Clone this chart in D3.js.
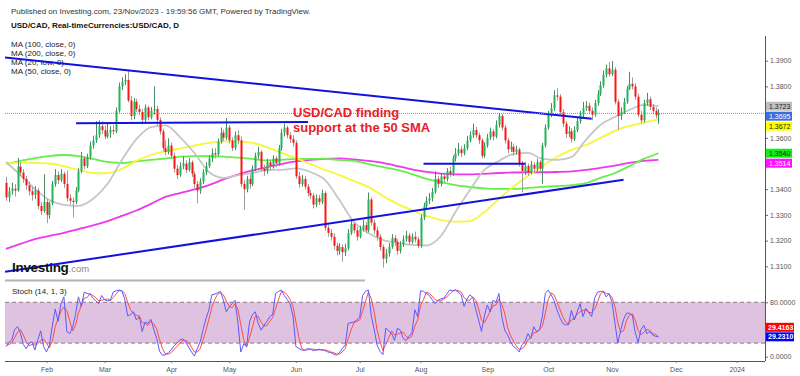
<!DOCTYPE html>
<html><head><meta charset="utf-8">
<script src="https://cdn.jsdelivr.net/npm/d3@7"></script>
<style>
body{margin:0;background:#fff}
svg{display:block}
text{font-family:Arial,"Liberation Sans",sans-serif}
</style>
</head><body>
<svg id="c" width="800" height="376"></svg>
<script>
// ---------- DATA ----------
const firstOpen = 1.3425;
const closes = [1.3368,1.3392,1.3402,1.3395,1.3488,1.3465,1.3440,1.3415,1.3392,1.3378,
1.3395,1.3335,1.3315,1.3350,1.3300,1.3345,1.3420,1.3455,1.3435,1.3460,
1.3420,1.3365,1.3355,1.3350,1.3395,1.3470,1.3520,1.3490,1.3525,1.3570,
1.3590,1.3610,1.3645,1.3630,1.3605,1.3620,1.3630,1.3625,1.3705,1.3800,
1.3818,1.3825,1.3745,1.3685,1.3740,1.3712,1.3700,1.3670,1.3718,1.3680,
1.3705,1.3712,1.3670,1.3625,1.3560,1.3545,1.3570,1.3530,1.3480,1.3455,
1.3490,1.3500,1.3475,1.3505,1.3460,1.3420,1.3395,1.3430,1.3465,1.3490,
1.3520,1.3540,1.3535,1.3585,1.3620,1.3600,1.3640,1.3590,1.3560,1.3610,
1.3590,1.3420,1.3400,1.3440,1.3420,1.3480,1.3530,1.3545,1.3480,1.3470,
1.3505,1.3490,1.3520,1.3500,1.3560,1.3620,1.3640,1.3610,1.3595,1.3580,
1.3450,1.3420,1.3440,1.3410,1.3385,1.3375,1.3340,1.3365,1.3350,1.3385,
1.3250,1.3230,1.3215,1.3180,1.3160,1.3175,1.3155,1.3170,1.3230,1.3265,
1.3240,1.3215,1.3245,1.3260,1.3240,1.3360,1.3270,1.3240,1.3215,1.3175,
1.3130,1.3150,1.3175,1.3210,1.3195,1.3160,1.3185,1.3205,1.3220,1.3195,
1.3215,1.3205,1.3180,1.3290,1.3335,1.3355,1.3365,1.3390,1.3440,1.3420,
1.3450,1.3440,1.3470,1.3460,1.3520,1.3540,1.3555,1.3540,1.3560,1.3590,
1.3610,1.3630,1.3610,1.3590,1.3530,1.3570,1.3600,1.3625,1.3605,1.3650,
1.3685,1.3640,1.3590,1.3555,1.3565,1.3545,1.3555,1.3500,1.3470,1.3490,
1.3465,1.3495,1.3480,1.3505,1.3480,1.3570,1.3640,1.3690,1.3715,1.3765,
1.3760,1.3700,1.3655,1.3615,1.3625,1.3595,1.3630,1.3665,1.3690,1.3715,
1.3725,1.3705,1.3690,1.3735,1.3770,1.3805,1.3845,1.3870,1.3848,1.3865,
1.3740,1.3685,1.3702,1.3740,1.3790,1.3810,1.3800,1.3760,1.3690,1.3668,
1.3735,1.3750,1.3720,1.3705,1.3688,1.3695];
const highs = [1.3448,1.3408,1.3425,1.3420,1.3522,1.3505,1.3478,1.3452,1.3430,1.3410,
1.3412,1.3405,1.3350,1.3458,1.3362,1.3352,1.3432,1.3478,1.3470,1.3478,
1.3468,1.3472,1.3380,1.3368,1.3408,1.3482,1.3545,1.3528,1.3538,1.3585,
1.3608,1.3665,1.3668,1.3665,1.3648,1.3660,1.3645,1.3650,1.3718,1.3815,
1.3835,1.3848,1.3864,1.3762,1.3755,1.3752,1.3728,1.3712,1.3730,1.3725,
1.3720,1.3800,1.3725,1.3680,1.3635,1.3590,1.3598,1.3582,1.3542,1.3495,
1.3505,1.3528,1.3512,1.3522,1.3512,1.3470,1.3432,1.3442,1.3478,1.3505,
1.3532,1.3558,1.3560,1.3598,1.3640,1.3632,1.3677,1.3650,1.3602,1.3625,
1.3628,1.3605,1.3435,1.3452,1.3458,1.3492,1.3542,1.3565,1.3552,1.3495,
1.3518,1.3515,1.3532,1.3530,1.3572,1.3635,1.3655,1.3648,1.3622,1.3610,
1.3590,1.3468,1.3455,1.3452,1.3420,1.3398,1.3385,1.3380,1.3378,1.3398,
1.3392,1.3262,1.3245,1.3228,1.3192,1.3190,1.3185,1.3188,1.3245,1.3278,
1.3272,1.3252,1.3258,1.3280,1.3272,1.3387,1.3368,1.3282,1.3252,1.3225,
1.3185,1.3168,1.3190,1.3225,1.3222,1.3205,1.3198,1.3220,1.3238,1.3230,
1.3228,1.3235,1.3215,1.3302,1.3348,1.3372,1.3385,1.3405,1.3470,1.3452,
1.3462,1.3465,1.3482,1.3488,1.3532,1.3560,1.3580,1.3568,1.3575,1.3608,
1.3625,1.3655,1.3642,1.3620,1.3598,1.3582,1.3615,1.3640,1.3635,1.3668,
1.3697,1.3692,1.3650,1.3600,1.3585,1.3578,1.3570,1.3562,1.3510,1.3505,
1.3500,1.3510,1.3505,1.3518,1.3512,1.3580,1.3652,1.3705,1.3735,1.3785,
1.3793,1.3770,1.3712,1.3665,1.3645,1.3638,1.3645,1.3680,1.3705,1.3740,
1.3742,1.3738,1.3718,1.3748,1.3785,1.3820,1.3862,1.3885,1.3895,1.3899,
1.3875,1.3750,1.3718,1.3755,1.3802,1.3857,1.3835,1.3812,1.3772,1.3705,
1.3748,1.3775,1.3760,1.3732,1.3718,1.3712];
const lows = [1.3355,1.3350,1.3378,1.3372,1.3390,1.3450,1.3425,1.3398,1.3375,1.3355,
1.3362,1.3322,1.3300,1.3308,1.3268,1.3285,1.3338,1.3410,1.3420,1.3428,
1.3405,1.3352,1.3340,1.3290,1.3342,1.3388,1.3462,1.3478,1.3482,1.3515,
1.3558,1.3580,1.3600,1.3615,1.3595,1.3598,1.3600,1.3612,1.3618,1.3698,
1.3785,1.3805,1.3738,1.3668,1.3672,1.3700,1.3688,1.3652,1.3660,1.3668,
1.3672,1.3690,1.3648,1.3612,1.3548,1.3532,1.3535,1.3518,1.3465,1.3440,
1.3448,1.3478,1.3462,1.3468,1.3448,1.3405,1.3345,1.3382,1.3420,1.3455,
1.3482,1.3505,1.3520,1.3528,1.3578,1.3588,1.3592,1.3578,1.3548,1.3552,
1.3575,1.3408,1.3320,1.3388,1.3402,1.3412,1.3470,1.3518,1.3468,1.3452,
1.3460,1.3472,1.3480,1.3485,1.3492,1.3550,1.3605,1.3598,1.3580,1.3565,
1.3440,1.3405,1.3410,1.3398,1.3372,1.3362,1.3325,1.3330,1.3338,1.3342,
1.3238,1.3215,1.3200,1.3165,1.3142,1.3145,1.3118,1.3140,1.3162,1.3222,
1.3228,1.3200,1.3208,1.3235,1.3228,1.3232,1.3258,1.3225,1.3200,1.3160,
1.3095,1.3112,1.3138,1.3168,1.3180,1.3145,1.3150,1.3175,1.3195,1.3182,
1.3188,1.3192,1.3170,1.3172,1.3280,1.3322,1.3342,1.3352,1.3382,1.3405,
1.3410,1.3428,1.3430,1.3448,1.3452,1.3508,1.3530,1.3525,1.3532,1.3552,
1.3582,1.3600,1.3598,1.3575,1.3520,1.3522,1.3562,1.3592,1.3590,1.3598,
1.3640,1.3628,1.3578,1.3540,1.3545,1.3530,1.3535,1.3488,1.3388,1.3455,
1.3452,1.3458,1.3465,1.3470,1.3468,1.3420,1.3562,1.3632,1.3680,1.3705,
1.3745,1.3690,1.3642,1.3600,1.3602,1.3582,1.3588,1.3622,1.3655,1.3680,
1.3705,1.3692,1.3668,1.3682,1.3725,1.3762,1.3795,1.3835,1.3838,1.3840,
1.3730,1.3630,1.3670,1.3692,1.3732,1.3785,1.3788,1.3748,1.3680,1.3655,
1.3660,1.3725,1.3708,1.3692,1.3675,1.3655];

// moving averages sampled every 5 trading days
const maIdx = [0,5,10,15,20,25,30,35,40,45,50,55,60,65,70,75,80,85,90,95,100,105,110,115,120,125,130,135,140,145,150,155,160,165,170,175,180,185,190,195,200,205,210,215,220,225];
const ma100 = [1.3498,1.3510,1.3521,1.3529,1.3533,1.3529,1.3518,1.3506,1.3502,1.3508,1.3514,1.3519,1.3527,1.3529,1.3529,1.3527,1.3523,1.3518,1.3512,1.3514,1.3518,1.3518,1.3518,1.3514,1.3510,1.3498,1.3486,1.3475,1.3459,1.3440,1.3428,1.3416,1.3409,1.3403,1.3401,1.3401,1.3405,1.3409,1.3412,1.3416,1.3424,1.3444,1.3463,1.3490,1.3518,1.3540];
const ma200 = [1.3168,1.3187,1.3206,1.3218,1.3230,1.3245,1.3259,1.3276,1.3296,1.3317,1.3343,1.3370,1.3385,1.3399,1.3416,1.3438,1.3457,1.3473,1.3485,1.3498,1.3508,1.3514,1.3518,1.3520,1.3516,1.3510,1.3502,1.3490,1.3477,1.3467,1.3461,1.3458,1.3458,1.3460,1.3463,1.3465,1.3466,1.3466,1.3467,1.3469,1.3475,1.3483,1.3492,1.3502,1.3510,1.3514];
const ma20Low = [1.3506,1.3455,1.3401,1.3358,1.3339,1.3335,1.3362,1.3420,1.3514,1.3595,1.3642,1.3648,1.3603,1.3541,1.3467,1.3444,1.3455,1.3463,1.3475,1.3475,1.3481,1.3467,1.3436,1.3358,1.3273,1.3230,1.3203,1.3191,1.3183,1.3181,1.3218,1.3311,1.3397,1.3475,1.3510,1.3537,1.3541,1.3518,1.3514,1.3525,1.3592,1.3650,1.3681,1.3708,1.3728,1.3723];
const ma50 = [1.3498,1.3504,1.3502,1.3500,1.3490,1.3475,1.3463,1.3462,1.3479,1.3510,1.3533,1.3547,1.3558,1.3570,1.3580,1.3586,1.3586,1.3580,1.3564,1.3541,1.3521,1.3498,1.3475,1.3455,1.3432,1.3409,1.3374,1.3343,1.3319,1.3296,1.3280,1.3274,1.3276,1.3311,1.3362,1.3409,1.3451,1.3490,1.3525,1.3553,1.3572,1.3599,1.3627,1.3646,1.3660,1.3672];

// Stochastic (14, 1, 3)
const stochK = [15,21,24,40,44,35,18,12,19,22,10,25,38,15,7,17,45,70,52,78,
88,37,34,43,62,88,74,95,93,92,86,82,78,90,84,82,83,95,97,98,
97,84,60,62,66,54,59,37,51,49,55,40,27,8,2,3,6,10,16,20,
25,26,22,14,7,1,12,22,40,56,69,91,92,94,96,83,66,73,78,83,
50,7,19,15,51,62,66,49,39,46,52,59,62,93,96,98,90,84,78,60,
15,12,10,9,12,11,9,10,11,10,9,7,6,4,2,6,12,17,49,50,
51,54,58,90,96,98,60,40,17,8,3,42,38,34,24,42,39,27,24,30,
35,69,59,97,96,93,90,84,78,83,85,86,92,98,97,98,95,91,74,85,
91,87,70,54,37,60,76,66,83,80,93,59,39,32,22,15,12,7,18,22,
34,27,44,37,39,60,93,98,91,83,69,58,49,47,47,68,54,66,78,59,
71,65,59,86,95,96,96,88,93,80,50,20,39,55,64,64,61,36,21,40,
46,34,37,32,30,29.2310];
const stochD = [16,18,20,28,36,40,32,22,16,18,17,19,24,26,20,13,23,44,56,67,
73,68,53,38,46,64,75,86,87,93,90,87,82,83,84,85,83,87,92,97,
97,93,80,69,63,61,60,50,49,46,52,48,41,25,12,4,4,6,11,15,
20,24,24,21,14,7,7,12,25,39,55,72,84,92,94,91,82,74,72,78,
70,47,25,14,28,43,60,59,51,45,46,52,58,71,84,96,95,91,84,74,
51,29,12,10,10,11,11,10,10,10,10,9,7,6,4,4,7,12,26,39,
50,52,54,67,81,95,85,66,39,22,9,18,28,38,32,33,35,36,30,27,
30,45,54,75,84,95,93,89,84,82,82,85,88,92,96,98,97,95,87,83,
83,88,83,70,54,50,58,67,75,76,85,77,64,43,31,23,16,11,12,16,
25,28,35,36,40,45,64,84,94,91,81,70,59,51,48,54,56,63,66,68,
69,65,65,70,80,92,96,93,92,87,74,50,36,38,53,61,63,54,39,32,
36,40,39,34,33,29.4163];

// axes categories / ticks
const monthLabels = ["Feb","Mar","Apr","May","Jun","Jul","Aug","Sep","Oct","Nov","Dec","2024"];
const monthIdx = [14,34,57,77,100,122,143,166,187,209,231,252];
const priceTicks = [1.31,1.32,1.33,1.34,1.36,1.38,1.39];
const stochTicks = [0,80];
const stochBand = [20,80];

// trend lines drawn on chart: [index, price] pairs
const trendDown = [[-0.3,1.3912],[202,1.3674]];
const trendUp = [[-0.3,1.3079],[213,1.3437]];
const resistMar = [[24.2,1.3657],[104.2,1.3661]];
const resistAug = [[144,1.3499],[179,1.3499]];

const titleText = "Published on Investing.com, 23/Nov/2023 - 19:59:56 GMT, Powered by TradingView.";
const subTitle = "USD/CAD, Real-timeCurrencies:USD/CAD, D";
const legendLines = ["MA (100, close, 0)","MA (200, close, 0)","MA (20, low, 0)","MA (50, close, 0)"];
const annotation = ["USD/CAD finding","support at the 50 SMA"];

// ---------- DRAW ----------
const svg = d3.select("#c");
const x = d3.scaleLinear().domain([0, 252]).range([5.9, 736.7]);
const y = d3.scaleLinear().domain([1.31, 1.39]).range([266.3, 60.7]);
const ys = d3.scaleLinear().domain([0, 100]).range([356.7, 288.7]);
const AX = 765;
const FONT = "Arial, Liberation Sans, sans-serif";

const defs = svg.append("defs");
defs.append("clipPath").attr("id","pclip").append("rect").attr("x",5).attr("y",30).attr("width",AX-5).attr("height",250);
defs.append("clipPath").attr("id","sclip").append("rect").attr("x",5).attr("y",283).attr("width",AX-5).attr("height",78);

// header
svg.append("text").attr("x",11).attr("y",14).attr("font-size",8).attr("fill","#333").text(titleText);
svg.append("text").attr("x",11).attr("y",28).attr("font-size",8).attr("font-weight","bold").attr("fill","#111").text(subTitle);
legendLines.forEach((t,i)=>svg.append("text").attr("x",11).attr("y",46.5+i*9).attr("font-size",8).attr("fill","#222").text(t));

const P = svg.append("g").attr("clip-path","url(#pclip)");

// moving averages
const maLine = d3.line().x(d=>x(d[0])).y(d=>y(d[1])).curve(d3.curveMonotoneX);
const maSpecs = [[ma200,"#ee38ee"],[ma100,"#66ee4a"],[ma50,"#f6f63a"],[ma20Low,"#c6c6c6"]];
maSpecs.forEach(([arr,col])=>{
  P.append("path").attr("d",maLine(maIdx.map((k,i)=>[k,arr[i]]))).attr("fill","none").attr("stroke",col).attr("stroke-width",1.8);
});

// candles
const opens = closes.map((c,i)=> i===0 ? firstOpen : closes[i-1]);
const cg = P.append("g");
closes.forEach((c,i)=>{
  const o = opens[i], up = c >= o;
  const cx = Math.round(x(i)) + 0.5;
  cg.append("line").attr("x1",cx).attr("x2",cx).attr("y1",y(highs[i])).attr("y2",y(lows[i]))
    .attr("stroke", up ? "#4d8a63" : "#9c9c9c").attr("stroke-width",1);
  const top = y(Math.max(o,c)), bot = y(Math.min(o,c));
  cg.append("rect").attr("x",cx-1).attr("width",2).attr("y",top).attr("height",Math.max(1,bot-top))
    .attr("fill", up ? "#22b45a" : "#ff1414");
});

// trend lines
const tl = d3.line().x(d=>x(d[0])).y(d=>y(d[1]));
[trendDown,trendUp,resistMar,resistAug].forEach(seg=>{
  P.append("path").attr("d",tl(seg)).attr("stroke","#1212e0").attr("stroke-width",2).attr("fill","none");
});

// current price dotted line
const last = closes[closes.length-1];
P.append("line").attr("x1",5).attr("x2",AX).attr("y1",y(last)).attr("y2",y(last))
  .attr("stroke","#6f8ff0").attr("stroke-width",1).attr("stroke-dasharray","1,1");

// annotation
svg.append("text").attr("x",293).attr("y",116.5).attr("font-size",13).attr("font-weight","bold").attr("fill","#e8202a").text(annotation[0]);
svg.append("text").attr("x",293).attr("y",131.5).attr("font-size",13).attr("font-weight","bold").attr("fill","#e8202a").text(annotation[1]);

// logo
const logo = svg.append("text").attr("x",12).attr("y",271.5);
logo.append("tspan").attr("font-size",13.5).attr("font-weight","bold").attr("fill","#111").attr("letter-spacing",-0.3).text("Investing");
logo.append("tspan").attr("font-size",9.5).attr("fill","#8a8a8a").text(".com");

// pane separator
svg.append("rect").attr("x",5).attr("y",279.5).attr("width",360).attr("height",2).attr("fill","#b4b4b4");

// price axis
const pax = svg.append("g").attr("transform",`translate(${AX},0)`)
  .call(d3.axisRight(y).tickValues(priceTicks).tickFormat(d3.format(".4f")).tickSize(3).tickPadding(2));
pax.select(".domain").remove();
pax.selectAll("line").attr("stroke","#666");
pax.selectAll("text").attr("font-size",7).attr("fill","#555").attr("font-family",FONT);
svg.append("line").attr("x1",AX+0.5).attr("x2",AX+0.5).attr("y1",36).attr("y2",361).attr("stroke","#555");

// last-value labels on price axis
const lastVals = [
  {v: ma20Low[ma20Low.length-1], bg:"#c0c0c0", fg:"#222"},
  {v: last, bg:"#3b6fdc", fg:"#fff"},
  {v: ma50[ma50.length-1], bg:"#ffff00", fg:"#222"},
  {v: ma100[ma100.length-1], bg:"#11ee11", fg:"#222"},
  {v: ma200[ma200.length-1], bg:"#ff11ff", fg:"#fff"}
];
let prevY = -1e9;
lastVals.sort((a,b)=>b.v-a.v).forEach(d=>{
  let yy = Math.max(y(d.v), prevY + 10);
  prevY = yy;
  svg.append("rect").attr("x",AX+1).attr("y",yy-4.5).attr("width",26).attr("height",9).attr("fill",d.bg);
  svg.append("text").attr("x",AX+4).attr("y",yy+2.6).attr("font-size",7).attr("fill",d.fg).text(d.v.toFixed(4));
});

// ---------- STOCH PANE ----------
svg.append("text").attr("x",12).attr("y",294).attr("font-size",8).attr("fill","#222").text("Stoch (14, 1, 3)");
const S = svg.append("g").attr("clip-path","url(#sclip)");
S.append("rect").attr("x",5).attr("width",AX-5).attr("y",ys(stochBand[1])).attr("height",ys(stochBand[0])-ys(stochBand[1])).attr("fill","#dfc2df");
stochBand.forEach(v=>S.append("line").attr("x1",5).attr("x2",AX).attr("y1",ys(v)).attr("y2",ys(v))
  .attr("stroke","#8a7a8a").attr("stroke-dasharray","4,3").attr("stroke-width",1));
const sl = d3.line().x((d,i)=>x(i)).y(d=>ys(d));
S.append("path").attr("d",sl(stochD)).attr("fill","none").attr("stroke","#ff4a4a").attr("stroke-width",1);
S.append("path").attr("d",sl(stochK)).attr("fill","none").attr("stroke","#5a5aff").attr("stroke-width",1);

const sax = svg.append("g").attr("transform",`translate(${AX},0)`)
  .call(d3.axisRight(ys).tickValues(stochTicks).tickFormat(d3.format(".4f")).tickSize(3).tickPadding(2));
sax.select(".domain").remove();
sax.selectAll("line").attr("stroke","#666");
sax.selectAll("text").attr("font-size",7).attr("fill","#555").attr("font-family",FONT);

// stoch last labels
const kLast = stochK[stochK.length-1], dLast = stochD[stochD.length-1];
const kY = ys(kLast), dY = Math.min(ys(dLast), kY - 9.5);
[[dLast,dY,"#ff0000"],[kLast,kY,"#0000ff"]].forEach(([v,yy,bg])=>{
  svg.append("rect").attr("x",AX+1).attr("y",yy-4.5).attr("width",28).attr("height",9).attr("fill",bg);
  svg.append("text").attr("x",AX+3).attr("y",yy+2.6).attr("font-size",7).attr("fill","#fff").attr("font-weight","bold").text(v.toFixed(4));
});

// bottom time axis
svg.append("line").attr("x1",5).attr("x2",AX).attr("y1",361.5).attr("y2",361.5).attr("stroke","#555");
const tax = svg.append("g").attr("transform","translate(0,361)")
  .call(d3.axisBottom(x).tickValues(monthIdx).tickFormat((d,i)=>monthLabels[i]).tickSize(2).tickPadding(4));
tax.select(".domain").remove();
tax.selectAll("line").attr("stroke","#777");
tax.selectAll("text").attr("font-size",7).attr("fill","#555").attr("font-family",FONT);
</script>
</body></html>
